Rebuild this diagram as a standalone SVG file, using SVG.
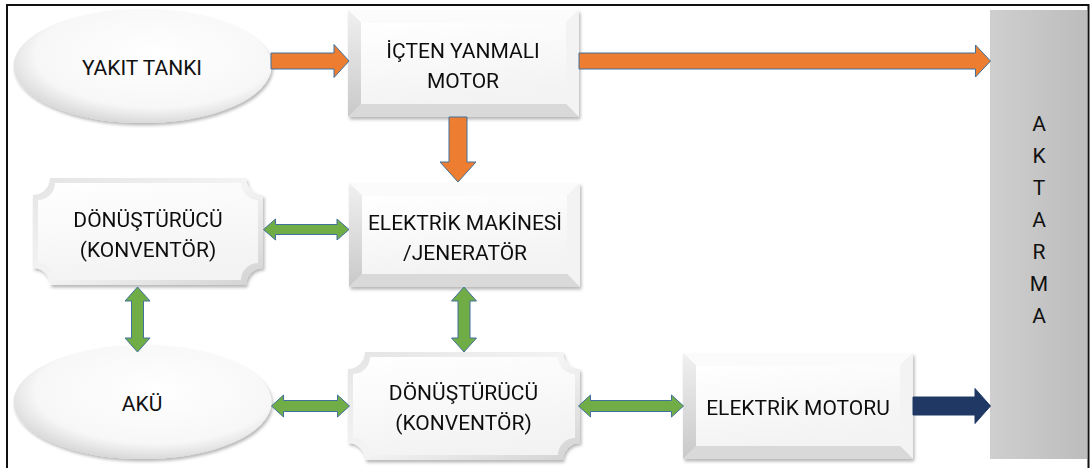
<svg xmlns="http://www.w3.org/2000/svg" width="1090" height="468" viewBox="0 0 1090 468">
<style>
.t{font-family:Roboto,"Liberation Sans",sans-serif;font-size:21px;fill:#111;text-anchor:middle}
.or{fill:#ED7D31;stroke:#41719C;stroke-width:1}
.gr{fill:#70AD47;stroke:#41719C;stroke-width:1}
.bl{fill:#203864;stroke:#1F3864;stroke-width:1}
.bt{fill:#fbfbfb}
.bL{fill:url(#gLeft)}
.bR{fill:#f3f3f3}
.bB{fill:#d9d9d9}
.bI{fill:url(#gFace)}
</style>
<defs>
<filter id="sh" x="-10%" y="-10%" width="125%" height="130%">
<feDropShadow dx="1.5" dy="2.5" stdDeviation="1.8" flood-color="#000" flood-opacity="0.28"/>
</filter>
<linearGradient id="gLeft" x1="0" y1="0" x2="0" y2="1">
<stop offset="0" stop-color="#f0f0f0"/>
<stop offset="1" stop-color="#c9c9c9"/>
</linearGradient>
<linearGradient id="gFace" x1="0" y1="0" x2="0.3" y2="1">
<stop offset="0" stop-color="#ffffff"/>
<stop offset="1" stop-color="#f3f3f3"/>
</linearGradient>
<linearGradient id="gPlq" x1="0" y1="0" x2="1" y2="1">
<stop offset="0" stop-color="#e4e4e4"/>
<stop offset="0.5" stop-color="#f4f4f4"/>
<stop offset="1" stop-color="#d2d2d2"/>
</linearGradient>
<radialGradient id="gEll" cx="0.55" cy="0.4" r="0.62">
<stop offset="0" stop-color="#ffffff"/>
<stop offset="0.75" stop-color="#f7f7f7"/>
<stop offset="1" stop-color="#d6d6d6"/>
</radialGradient>
<linearGradient id="gAkt" x1="0" y1="0" x2="1" y2="0">
<stop offset="0" stop-color="#cfcfcf"/>
<stop offset="1" stop-color="#bcbcbc"/>
</linearGradient>
</defs>
<rect x="0" y="0" width="1090" height="468" fill="#ffffff"/>
<rect x="7" y="5" width="1081.5" height="475" fill="none" stroke="#111" stroke-width="2"/>

<g id="aktarma">
<rect x="990" y="10" width="97" height="449" fill="url(#gAkt)"/>
<text class="t" x="1039" y="130.5">A</text>
<text class="t" x="1039" y="162.5">K</text>
<text class="t" x="1039" y="194.5">T</text>
<text class="t" x="1039" y="226.5">A</text>
<text class="t" x="1039" y="258.5">R</text>
<text class="t" x="1039" y="290.5">M</text>
<text class="t" x="1039" y="322.5">A</text>
</g>

<g id="yakit-tanki">
<ellipse cx="142.5" cy="66" rx="129" ry="57" fill="url(#gEll)" filter="url(#sh)"/>
<text class="t" x="142" y="75">YAKIT TANKI</text>
</g>

<g id="icten-yanmali-motor" filter="url(#sh)">
<polygon class="bt" points="348,10 579,10 566,23 361,23"/>
<polygon class="bL" points="348,10 361,23 361,104 348,117"/>
<polygon class="bR" points="579,10 579,117 566,104 566,23"/>
<polygon class="bB" points="348,117 361,104 566,104 579,117"/>
<rect class="bI" x="361" y="23" width="205" height="81"/>
<text class="t" x="463" y="57.5">İÇTEN YANMALI</text>
<text class="t" x="463" y="87.5">MOTOR</text>
</g>

<g id="elektrik-makinesi" filter="url(#sh)">
<polygon class="bt" points="349,183 580,183 567,196 362,196"/>
<polygon class="bL" points="349,183 362,196 362,274 349,287"/>
<polygon class="bR" points="580,183 580,287 567,274 567,196"/>
<polygon class="bB" points="349,287 362,274 567,274 580,287"/>
<rect class="bI" x="362" y="196" width="205" height="78"/>
<text class="t" x="465" y="230">ELEKTRİK MAKİNESİ</text>
<text class="t" x="465" y="260">/JENERATÖR</text>
</g>

<g id="donusturucu-1" filter="url(#sh)">
<path d="M50,178 H246 A17,17 0 0 0 263,195 V268 A17,17 0 0 0 246,285 H50 A17,17 0 0 0 33,268 V195 A17,17 0 0 0 50,178 Z" fill="url(#gPlq)"/>
<path d="M55,183 H241 A17,17 0 0 0 258,200 V263 A17,17 0 0 0 241,280 H55 A17,17 0 0 0 38,263 V200 A17,17 0 0 0 55,183 Z" fill="url(#gFace)"/>
<text class="t" x="148" y="226.5">DÖNÜŞTÜRÜCÜ</text>
<text class="t" x="148" y="257">(KONVENTÖR)</text>
</g>

<g id="aku">
<ellipse cx="142.5" cy="402" rx="129" ry="57" fill="url(#gEll)" filter="url(#sh)"/>
<text class="t" x="142" y="411">AKÜ</text>
</g>

<g id="donusturucu-2" filter="url(#sh)">
<path d="M365,352 H563 A17,17 0 0 0 580,369 V443 A17,17 0 0 0 563,460 H365 A17,17 0 0 0 348,443 V369 A17,17 0 0 0 365,352 Z" fill="url(#gPlq)"/>
<path d="M370,357 H558 A17,17 0 0 0 575,374 V438 A17,17 0 0 0 558,455 H370 A17,17 0 0 0 353,438 V374 A17,17 0 0 0 370,357 Z" fill="url(#gFace)"/>
<text class="t" x="463.5" y="399.5">DÖNÜŞTÜRÜCÜ</text>
<text class="t" x="463.5" y="429.5">(KONVENTÖR)</text>
</g>

<g id="elektrik-motoru" filter="url(#sh)">
<polygon class="bt" points="683,353 913,353 900,366 696,366"/>
<polygon class="bL" points="683,353 696,366 696,446 683,459"/>
<polygon class="bR" points="913,353 913,459 900,446 900,366"/>
<polygon class="bB" points="683,459 696,446 900,446 913,459"/>
<rect class="bI" x="696" y="366" width="204" height="80"/>
<text class="t" x="798" y="415">ELEKTRİK MOTORU</text>
</g>

<g id="connectors">
<polygon class="or" points="271,53 334,53 334,44.5 349,61 334,77.5 334,69 271,69"/>
<polygon class="or" points="579,53 975.5,53 975.5,45 990.5,61 975.5,77 975.5,69 579,69"/>
<polygon class="or" points="449,117 467,117 467,162 476,162 458,182 440,162 449,162"/>
<polygon class="gr" points="263.5,229.5 275.5,219 275.5,224.5 337,224.5 337,219 349,229.5 337,240 337,234.5 275.5,234.5 275.5,240"/>
<polygon class="gr" points="137.5,287 150,301 143.5,301 143.5,338 150,338 137.5,352 125,338 131.5,338 131.5,301 125,301"/>
<polygon class="gr" points="464,287 476.5,301 470,301 470,338 476.5,338 464,352 451.5,338 458,338 458,301 451.5,301"/>
<polygon class="gr" points="271.5,406 283.5,395 283.5,400.5 337.5,400.5 337.5,395 349.5,406 337.5,417 337.5,411.5 283.5,411.5 283.5,417"/>
<polygon class="gr" points="578.5,406 590.5,395 590.5,400.5 671.5,400.5 671.5,395 683.5,406 671.5,417 671.5,411.5 590.5,411.5 590.5,417"/>
<polygon class="bl" points="913,397 975,397 975,388.5 990.5,406 975,423.5 975,415 913,415"/>
</g>
</svg>
